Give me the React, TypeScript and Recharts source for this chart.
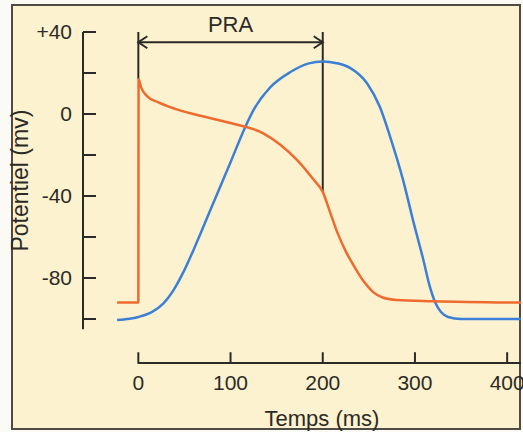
import { LineChart, Line, XAxis, YAxis, ReferenceLine } from "recharts"

// potentiel d'action (orange) et contraction (bleu)
const actionTime = [-23, 0, 0.3, 3, 10, 20, 40, 64, 100, 135, 154, 172, 190, 200, 208, 216, 225, 235, 245, 255, 265, 280, 320, 415]
const actionMv = [-92, -92, 17, 13, 8.5, 6, 2.5, -0.5, -4.4, -9.3, -15, -22.4, -32, -38, -48, -58, -67, -75, -82, -87, -89.5, -90.7, -91.3, -92]

const forceTime = [-23, 0, 15, 27, 38, 49, 64, 78, 100, 116, 125, 143, 165, 185, 200, 215, 230, 248, 262, 273, 287, 298, 309, 316, 322, 328, 336, 350, 415]
const forceMv = [-100.5, -99, -96.5, -92.5, -86, -77, -62, -47, -23.5, -6.3, 2, 13, 20.5, 24.7, 25.6, 24.8, 22.4, 15, 3.4, -11, -32, -52, -71, -84, -92, -96.5, -99, -100, -100]

const timeTicks = [0, 100, 200, 300, 400]
const potentialTicks = [40, 20, 0, -20, -40, -60, -80, -100]
const potentialLabels: Record<number, string> = { 40: "+40", 0: "0", "-40": "-40", "-80": "-80" }

const actionData = actionTime.map((t, i) => ({ t, mv: actionMv[i] }))
const forceData = forceTime.map((t, i) => ({ t, mv: forceMv[i] }))

const ink = "#2c2a26"
const font = 21

function TimeTick({ x, y, payload }: any) {
  return (
    <g>
      <line x1={x} x2={x} y1={y + 23} y2={y + 34.5} stroke={ink} strokeWidth={2} />
      <text x={x} y={y + 61} textAnchor="middle" fontSize={font} fill={ink}>
        {payload.value}
      </text>
    </g>
  )
}

function PotentialTick({ x, y, payload }: any) {
  const label = potentialLabels[payload.value]
  return (
    <g>
      <line x1={x} x2={x + 13} y1={y} y2={y} stroke={ink} strokeWidth={2} />
      {label && (
        <text x={x - 11} y={y} dy="0.35em" textAnchor="end" fontSize={font} fill={ink}>
          {label}
        </text>
      )}
    </g>
  )
}

function Arrow({ x1, y1, x2, y2 }: any) {
  const h = 9
  const w = 6
  return (
    <g stroke={ink} strokeWidth={2} fill="none">
      <line x1={x1} y1={y1} x2={x2} y2={y2} />
      <polyline points={`${x1 + h},${y1 - w} ${x1},${y1} ${x1 + h},${y1 + w}`} />
      <polyline points={`${x2 - h},${y2 - w} ${x2},${y2} ${x2 - h},${y2 + w}`} />
    </g>
  )
}

export default function App() {
  return (
    <div
      style={{
        position: "absolute",
        left: 0,
        top: 0,
        width: 523,
        height: 432,
        background: "#fbfaf4",
        fontFamily: "'Liberation Sans', Arial, sans-serif",
      }}
    >
      <div
        style={{
          position: "absolute",
          left: 11,
          top: 4,
          width: 510,
          height: 426,
          boxSizing: "border-box",
          border: "2px solid #4e4b44",
          background: "#fdf2cf",
        }}
      />
      <div style={{ position: "absolute", left: 0, top: 0 }}>
        <LineChart width={523} height={432} margin={{ top: 32, right: 2, bottom: 0, left: 0 }}>
          <XAxis
            dataKey="t"
            type="number"
            domain={[-60, 415]}
            ticks={timeTicks}
            interval={0}
            height={102.75}
            axisLine={false}
            tickLine={false}
            tickSize={0}
            tickMargin={0}
            tick={(p: any) => <TimeTick {...p} />}
            label={{ value: "Temps (ms)", position: "insideBottom", offset: 6, dx: 20, fontSize: 22, fill: ink }}
          />
          <YAxis
            type="number"
            domain={[-105, 40]}
            ticks={potentialTicks}
            interval={0}
            width={83}
            axisLine={{ stroke: ink, strokeWidth: 2 }}
            tickLine={false}
            tickSize={0}
            tickMargin={0}
            tick={(p: any) => <PotentialTick {...p} />}
            label={{
              value: "Potentiel (mv)",
              angle: -90,
              position: "insideLeft",
              offset: 20,
              fontSize: 23,
              fill: ink,
              style: { textAnchor: "middle" },
            }}
          />
          <ReferenceLine
            segment={[{ x: 0, y: -121.5 }, { x: 415, y: -121.5 }]}
            ifOverflow="visible"
            stroke={ink}
            strokeWidth={2}
          />
          <ReferenceLine segment={[{ x: 0, y: 40 }, { x: 0, y: 17 }]} ifOverflow="visible" stroke={ink} strokeWidth={2} />
          <ReferenceLine segment={[{ x: 200, y: 40 }, { x: 200, y: -38 }]} ifOverflow="visible" stroke={ink} strokeWidth={2} />
          <ReferenceLine
            segment={[{ x: 0, y: 35 }, { x: 200, y: 35 }]}
            ifOverflow="visible"
            shape={(p: any) => <Arrow {...p} />}
            label={{ value: "PRA", position: "top", offset: 10.5, fontSize: 22, fill: ink }}
          />
          <Line
            data={forceData}
            dataKey="mv"
            type="monotone"
            stroke="#3b80d6"
            strokeWidth={2.5}
            dot={false}
            isAnimationActive={false}
          />
          <Line
            data={actionData}
            dataKey="mv"
            type="monotone"
            stroke="#ee6a2e"
            strokeWidth={2.5}
            dot={false}
            isAnimationActive={false}
          />
        </LineChart>
      </div>
    </div>
  )
}
